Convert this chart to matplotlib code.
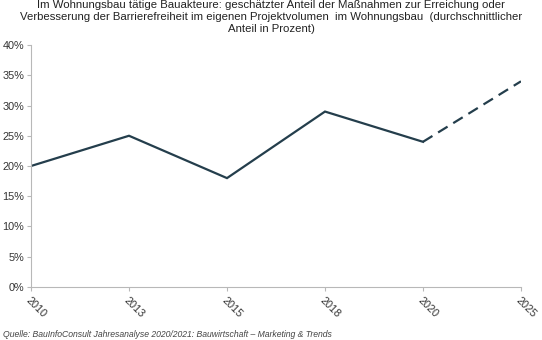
import matplotlib.pyplot as plt
from matplotlib.ticker import PercentFormatter

plt.rcParams['font.family'] = ['Liberation Sans', 'DejaVu Sans']

# Data
years = ['2010', '2013', '2015', '2018', '2020', '2025']
share = [20, 25, 18, 29, 24, 34]  # Anteil in Prozent
n_actual = 5  # 2010-2020 measured, 2025 forecast

title = ('Im Wohnungsbau tätige Bauakteure: geschätzter Anteil der Maßnahmen zur Erreichung oder\n'
         'Verbesserung der Barrierefreiheit im eigenen Projektvolumen  im Wohnungsbau  (durchschnittlicher\n'
         'Anteil in Prozent)')
source = 'Quelle: BauInfoConsult Jahresanalyse 2020/2021: Bauwirtschaft \u2013 Marketing & Trends'

line_color = '#243e4c'
axis_color = '#b8b8b8'
text_color = '#333333'

fig = plt.figure(figsize=(5.42, 3.4), dpi=100)
ax = fig.add_axes([0.0572, 0.1559, 0.9040, 0.7117])

x = list(range(len(years)))
ax.plot(x[:n_actual], share[:n_actual], color=line_color, lw=1.6, solid_joinstyle='miter')
ax.plot(x[n_actual - 1:], share[n_actual - 1:], color=line_color, lw=1.6, linestyle=(0, (5, 3)))

ax.set_xlim(x[0], x[-1])
ax.set_ylim(0, 40)
ax.set_yticks(range(0, 41, 5))
ax.yaxis.set_major_formatter(PercentFormatter(decimals=0))
ax.set_xticks(x)
ax.set_xticklabels(years, rotation=-45, ha='left', va='top', rotation_mode='anchor')

for s in ['top', 'right']:
    ax.spines[s].set_visible(False)
for s in ['left', 'bottom']:
    ax.spines[s].set_color(axis_color)
    ax.spines[s].set_linewidth(0.8)
ax.tick_params(axis='both', colors=axis_color, length=3, width=0.8, labelsize=7.8,
               labelcolor=text_color)
ax.tick_params(axis='y', pad=2)
ax.tick_params(axis='x', pad=3)

fig.text(0.5, 1.0, title, ha='center', va='top', fontsize=8.2,
         color='#222222', linespacing=1.22)
fig.text(0.006, 0.002, source, ha='left', va='bottom', fontsize=6.2,
         style='italic', color='#444444')

fig.savefig('out.png', dpi=100)
